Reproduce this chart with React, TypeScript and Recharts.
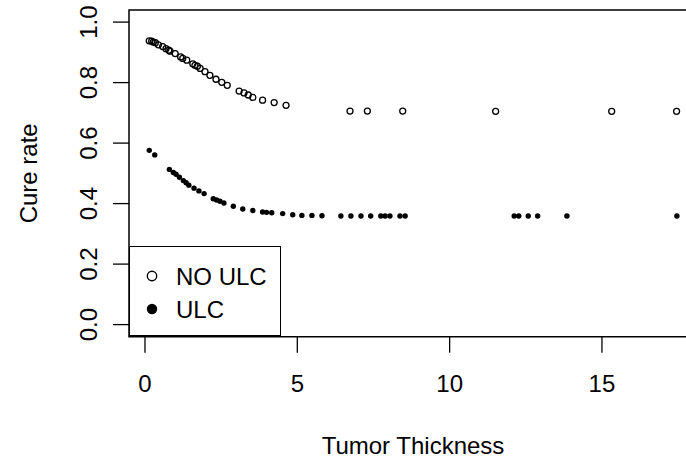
import React from 'react';
import { ScatterChart, Scatter, XAxis, YAxis, ReferenceArea, Legend } from 'recharts';

const noUlcThickness = [0.14, 0.22, 0.27, 0.34, 0.44, 0.58, 0.69, 0.78, 0.82, 0.99, 1.17, 1.24, 1.37, 1.57, 1.64, 1.72, 1.81, 1.97, 2.13, 2.33, 2.52, 2.70, 3.09, 3.25, 3.39, 3.54, 3.86, 4.24, 4.63, 6.73, 7.30, 8.46, 11.51, 15.32, 17.45];
const noUlcCure = [0.938, 0.937, 0.934, 0.932, 0.925, 0.919, 0.912, 0.907, 0.904, 0.896, 0.885, 0.880, 0.874, 0.862, 0.857, 0.854, 0.847, 0.836, 0.824, 0.811, 0.801, 0.791, 0.772, 0.766, 0.759, 0.751, 0.742, 0.734, 0.725, 0.706, 0.706, 0.706, 0.705, 0.705, 0.705];

const ulcThickness = [0.14, 0.32, 0.80, 0.93, 1.02, 1.13, 1.26, 1.35, 1.44, 1.61, 1.77, 1.94, 2.24, 2.35, 2.46, 2.59, 2.90, 3.21, 3.54, 3.86, 3.99, 4.16, 4.52, 4.85, 5.15, 5.48, 5.81, 6.43, 6.76, 7.09, 7.41, 7.74, 7.88, 8.04, 8.37, 8.54, 12.12, 12.27, 12.58, 12.89, 13.85, 17.46];
const ulcCure = [0.576, 0.561, 0.513, 0.503, 0.497, 0.487, 0.476, 0.469, 0.461, 0.451, 0.442, 0.433, 0.416, 0.412, 0.408, 0.402, 0.391, 0.382, 0.377, 0.372, 0.371, 0.370, 0.367, 0.363, 0.361, 0.361, 0.360, 0.359, 0.359, 0.359, 0.359, 0.359, 0.359, 0.359, 0.359, 0.359, 0.359, 0.359, 0.359, 0.359, 0.359, 0.359];

const xTicks = [0, 5, 10, 15];
const yTicks = [0, 0.2, 0.4, 0.6, 0.8, 1.0];
const seriesNames = ['NO ULC', 'ULC'];

const noUlcData = noUlcThickness.map((x, i) => ({ x, y: noUlcCure[i] }));
const ulcData = ulcThickness.map((x, i) => ({ x, y: ulcCure[i] }));

const FONT = '"Liberation Sans", Arial, Helvetica, sans-serif';
const FS = 24;

const OpenDot = (p: any) => (
  <circle cx={p.cx} cy={p.cy} r={3} fill="none" stroke="#000" strokeWidth={1.3} />
);
const FilledDot = (p: any) => (
  <circle cx={p.cx} cy={p.cy} r={2.7} fill="#000" stroke="none" />
);

const XTick = (p: any) => (
  <text x={p.x} y={p.y + 39} textAnchor="middle" fontFamily={FONT} fontSize={FS} fill="#000">
    {p.payload.value}
  </text>
);

const YTick = (p: any) => {
  const bx = p.x - 16;
  return (
    <text x={bx} y={p.y} textAnchor="middle" fontFamily={FONT} fontSize={FS} fill="#000"
      transform={`rotate(-90, ${bx}, ${p.y})`}>
      {Number(p.payload.value).toFixed(1)}
    </text>
  );
};

const XLabel = (p: any) => {
  const vb = p.viewBox || {};
  return (
    <text x={vb.x + vb.width / 2} y={454} textAnchor="middle" fontFamily={FONT} fontSize={FS} fill="#000">
      Tumor Thickness
    </text>
  );
};

const YLabel = (p: any) => {
  const vb = p.viewBox || {};
  const cy = vb.y + vb.height / 2;
  return (
    <text x={37} y={cy} textAnchor="middle" fontFamily={FONT} fontSize={FS} fill="#000"
      transform={`rotate(-90, 37, ${cy})`}>
      Cure rate
    </text>
  );
};

const LegendBox = () => (
  <div style={{
    width: 152, height: 90, border: '1.5px solid #000', background: '#fff',
    boxSizing: 'border-box', position: 'relative', fontFamily: FONT, fontSize: FS, color: '#000'
  }}>
    <svg width={152} height={90} style={{ position: 'absolute', left: 0, top: 0 }}>
      <circle cx={22} cy={29} r={4.7} fill="none" stroke="#000" strokeWidth={1.4} />
      <circle cx={22} cy={62} r={5.2} fill="#000" />
      <text x={46} y={29} dominantBaseline="central" fontFamily={FONT} fontSize={FS} fill="#000">{seriesNames[0]}</text>
      <text x={46} y={62} dominantBaseline="central" fontFamily={FONT} fontSize={FS} fill="#000">{seriesNames[1]}</text>
    </svg>
  </div>
);

export default function App() {
  return (
    <div style={{ position: 'absolute', left: 0, top: 0, width: 686, height: 461, overflow: 'hidden', background: '#fff' }}>
      <ScatterChart width={720} height={461} margin={{ top: 10, right: 23, bottom: 64.3, left: 69 }}>
        <XAxis
          type="number" dataKey="x" domain={[-0.525, 18.12]} ticks={xTicks} allowDataOverflow
          axisLine={false} tickSize={16} tickMargin={0} tickLine={{ stroke: '#000', strokeWidth: 1.3 }}
          tick={<XTick />} height={60} interval={0} label={<XLabel />}
        />
        <YAxis
          type="number" dataKey="y" domain={[-0.04, 1.04]} ticks={yTicks} allowDataOverflow
          axisLine={false} tickSize={16} tickMargin={0} tickLine={{ stroke: '#000', strokeWidth: 1.3 }}
          tick={<YTick />} width={60} interval={0} label={<YLabel />}
        />
        <ReferenceArea x1={-0.525} x2={18.12} y1={-0.04} y2={1.04} fill="none" stroke="#000" strokeWidth={1.5} ifOverflow="visible" />
        <Scatter name={seriesNames[0]} data={noUlcData} shape={<OpenDot />} isAnimationActive={false} />
        <Scatter name={seriesNames[1]} data={ulcData} shape={<FilledDot />} isAnimationActive={false} />
        <Legend
          layout="horizontal" align="center" verticalAlign="middle"
          content={<LegendBox />}
          wrapperStyle={{ left: 129, top: 246, width: 152, height: 90, bottom: 'auto', right: 'auto', margin: 0 }}
        />
      </ScatterChart>
    </div>
  );
}
